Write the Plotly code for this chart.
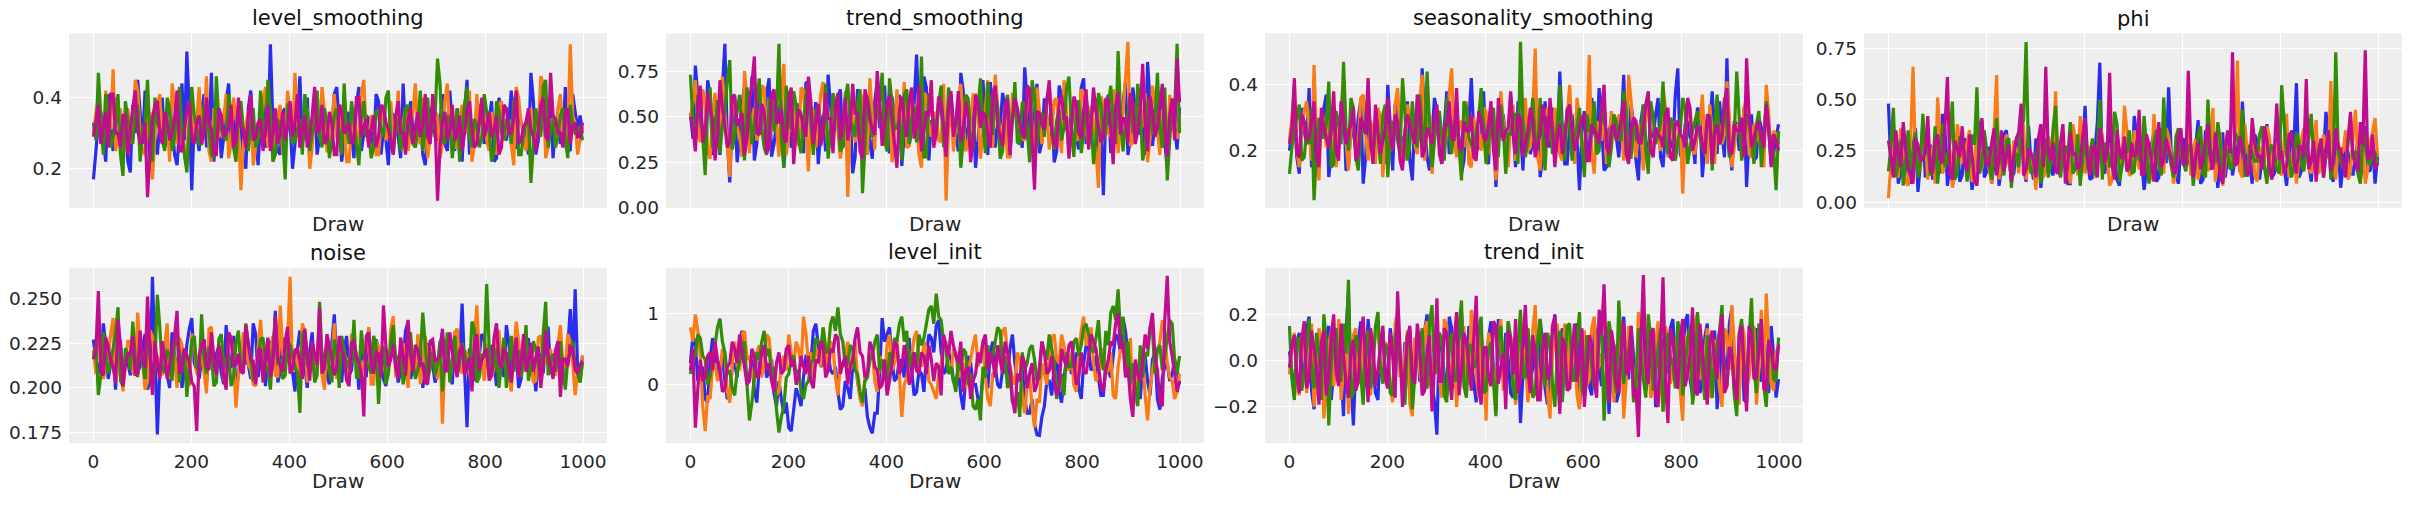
import numpy as np
import plotly.graph_objects as go

# ---------------- data (in x100 / x1000 units) ----------------
# Each variable: 4 chains; "*_even" lists hold the samples at even draw slots,
# "*_mid" lists hold the samples in between them.
chain_colors = ["#2a2eec", "#fa7c17", "#328c06", "#c10c90"]

level_smoothing_even = [
    [17,33,28,41,25,36,30,22,38,45,27,31,35,24,40,29,33,21,44,53,14,30,36,26,47,32,23,39,28,35,31,20,42,29,34,26,55,30,24,37,33,27,46,31,22,38,29,35,25,41,32,28,36,23,43,30,34,26,39,31,21,35,29,44,27,33,38,24,30,36,28,41,25,32,37,22,45,30,27,34,31,39,23,36,28,42,26,33,30,47,24,35,29,38,32,27,43,25,36,35],
    [30,40,26,34,48,29,23,37,31,42,25,33,17,38,28,35,44,27,31,24,39,33,29,46,22,36,30,41,27,34,14,32,37,26,29,43,31,24,38,28,35,47,26,32,20,39,30,36,25,41,29,33,22,37,31,45,27,34,24,38,30,28,42,33,25,36,29,40,23,32,35,27,44,31,26,38,30,22,41,34,28,36,24,39,31,27,43,33,25,37,29,46,23,34,30,41,26,55,33,28],
    [33,47,24,36,29,41,18,34,27,38,31,45,22,33,28,40,25,36,30,19,43,32,27,37,24,46,31,28,35,22,39,30,33,26,42,29,36,24,31,17,38,28,34,41,25,32,29,37,23,35,30,44,27,33,21,39,31,26,36,29,42,24,34,30,38,27,32,25,40,33,51,28,35,23,37,31,43,26,32,29,36,22,39,30,34,27,41,24,33,16,37,29,45,31,26,35,28,38,30,32],
    [29,38,32,26,41,30,35,24,37,31,28,12,34,39,27,33,30,42,25,36,29,33,27,40,31,24,35,30,38,28,32,26,41,29,34,31,25,37,30,28,39,33,26,35,29,43,31,27,36,24,38,30,33,28,40,32,26,35,29,37,31,24,39,30,34,27,36,32,29,41,11,33,28,38,30,25,36,31,27,40,32,29,35,26,37,30,42,28,33,31,25,38,29,47,34,30,36,27,33,29],
]
level_smoothing_mid = [
    [25,36,22,31,40,27,34,19,30,36,42,23,29,33,26,38,24,31,28,36,33,25,41,30,22,35,29,44,27,32,24,37,30,21,39,28,33,25,36,31,20,34,27,40,29,24,37,31,26,43,22,33,29,38,25,35,30,41,24,28,36,32,23,30,39,26,34,21,37,29,33,27,42,25,31,36,24,30,38,27,34,22,40,29,33,26,35,31,24,39,28,32,37,23,34,29,26,41,31,30],
    [36,28,42,31,25,37,33,27,45,30,24,36,29,41,33,22,38,30,26,35,28,43,31,25,37,29,34,23,40,31,27,36,21,33,39,26,30,35,24,42,28,33,30,37,26,31,43,25,34,29,38,22,32,27,41,30,35,24,33,28,39,31,25,37,30,44,27,33,29,36,23,39,30,26,34,31,42,27,32,36,25,30,38,28,33,21,40,29,35,27,31,44,26,33,37,28,30,35,24,31],
    [28,35,41,26,33,24,39,30,36,22,33,28,40,31,25,37,29,43,24,32,35,27,38,30,23,34,29,41,26,36,31,25,37,28,33,45,22,34,29,38,27,31,24,36,30,42,26,33,28,37,24,31,39,27,34,29,23,36,31,40,28,33,25,37,30,26,42,31,28,35,44,27,33,30,22,38,29,34,26,41,31,25,36,28,33,39,24,30,35,27,31,43,26,34,29,37,23,32,30,28],
    [33,27,36,41,30,26,35,31,42,27,33,24,38,30,36,28,34,25,31,39,27,35,30,33,24,37,29,32,26,40,31,35,28,33,25,38,30,27,36,32,29,41,31,26,35,30,38,28,33,24,36,31,27,40,29,34,31,26,38,33,28,35,30,24,37,31,29,41,27,33,26,36,31,28,35,30,39,26,33,29,36,31,24,38,30,34,27,32,37,29,31,40,28,35,30,26,37,32,29,33],
]
trend_smoothing_even = [
    [52,78,41,33,62,47,29,90,14,55,38,67,44,26,59,49,71,35,53,22,64,41,57,30,68,46,24,51,73,39,60,33,48,19,65,42,56,27,70,45,36,61,50,23,58,43,84,31,66,48,38,55,27,62,40,74,35,51,22,58,47,69,33,44,56,28,63,41,77,36,52,30,60,45,25,67,49,39,58,32,71,43,55,26,7,62,48,36,57,29,66,41,53,80,34,60,45,21,50,32],
    [49,70,36,58,27,63,44,52,17,61,39,75,30,55,42,66,33,48,28,79,41,57,34,64,20,53,46,69,31,58,42,37,6,54,43,62,29,50,71,38,56,25,65,44,33,59,47,22,61,39,52,36,4,57,45,68,31,49,62,27,55,40,73,35,51,28,60,44,37,66,24,53,47,32,59,42,70,29,56,38,63,34,48,11,57,41,65,30,52,91,36,60,45,25,67,43,54,31,49,38],
    [73,35,58,18,66,45,30,53,81,40,62,26,55,47,71,33,59,42,90,22,51,64,37,48,70,29,56,41,27,63,50,34,68,45,57,8,61,39,52,74,31,58,44,26,65,49,36,83,28,54,40,67,33,59,46,22,62,38,55,71,30,48,64,27,53,43,69,35,57,25,61,47,39,66,32,54,44,72,28,59,41,50,24,63,37,56,46,86,31,52,43,68,26,58,40,74,33,15,55,90],
    [50,31,67,42,55,26,70,45,36,62,48,29,58,83,40,53,33,65,47,38,60,24,54,44,72,35,57,41,49,30,63,46,37,68,52,27,59,43,75,34,56,48,22,61,39,66,45,31,53,70,41,57,28,64,47,36,58,25,62,44,51,33,67,40,55,29,60,46,38,65,10,52,43,70,35,57,48,27,61,41,54,32,66,45,38,59,24,63,49,36,57,42,79,31,53,44,68,28,60,82],
]
trend_smoothing_mid = [
    [38,61,45,70,29,53,66,37,48,25,57,44,72,35,51,63,28,46,60,40,33,55,48,69,37,58,42,31,56,47,65,39,53,28,61,49,35,58,44,67,30,52,62,41,34,57,48,72,26,45,60,38,54,47,31,64,43,56,37,70,29,51,45,63,38,55,47,33,59,42,68,36,49,57,31,62,44,53,39,66,35,48,60,43,52,30,57,46,69,38,54,41,29,58,47,63,36,51,44,55],
    [58,42,65,31,50,46,72,35,57,44,28,60,48,37,67,32,54,45,61,29,50,38,66,43,55,33,62,47,40,58,27,64,49,36,57,45,71,32,53,41,60,38,48,69,34,55,29,63,46,52,37,68,43,31,59,47,36,62,50,42,70,33,56,45,28,63,49,38,57,44,66,35,52,41,60,30,54,47,37,65,43,56,32,61,49,39,58,46,71,34,52,44,63,38,57,29,48,62,41,50],
    [47,62,39,55,33,59,45,70,32,53,41,66,35,58,44,29,61,50,38,67,43,56,30,62,46,53,36,68,42,55,31,60,47,39,65,34,52,45,58,37,71,43,49,62,35,56,41,28,63,48,57,34,66,44,51,38,60,32,54,46,69,40,55,31,62,47,36,58,44,70,33,52,59,41,48,37,65,45,53,30,61,49,38,57,43,67,35,51,46,62,39,55,33,60,48,44,66,37,53,41],
    [44,58,36,63,48,40,55,33,61,45,52,38,68,41,57,30,62,47,54,36,66,43,51,39,58,46,34,63,49,56,37,60,44,52,31,65,48,40,57,45,62,35,53,47,59,38,67,42,50,33,61,46,55,39,64,43,49,36,58,52,40,63,45,34,60,48,55,41,67,37,53,46,59,42,33,62,50,44,57,38,65,47,52,36,60,43,56,40,49,63,35,54,46,61,39,57,44,51,37,58],
]
seasonality_smoothing_even = [
    [20,31,13,26,39,17,24,33,12,28,21,36,15,25,30,10,34,19,27,22,40,14,29,23,35,11,26,45,18,24,32,16,38,21,27,13,30,42,20,25,17,33,9,28,22,37,15,26,31,19,24,12,35,21,29,44,16,27,23,8,32,20,26,39,14,25,30,18,43,22,28,11,34,20,24,36,15,27,21,45,17,29,23,33,12,26,38,19,25,48,14,28,22,9,31,18,27,35,16,24],
    [23,40,15,32,27,46,11,29,36,19,25,42,14,30,22,37,17,26,33,12,28,21,39,16,34,24,19,43,27,13,31,22,26,45,18,29,35,15,24,20,32,27,11,38,23,30,17,25,36,21,51,14,28,24,33,19,26,40,16,30,22,49,13,27,35,20,25,31,17,43,23,28,14,34,21,26,39,18,29,24,7,32,20,27,37,16,25,30,22,41,15,28,24,36,18,27,21,40,17,25],
    [13,27,34,18,22,5,30,24,41,16,28,47,20,33,14,26,38,19,25,31,12,29,23,42,17,35,21,27,44,15,30,24,36,19,28,11,33,22,26,39,16,29,21,34,13,25,31,53,18,27,23,36,14,30,22,40,17,28,25,33,12,26,35,20,29,15,31,24,38,18,27,22,34,13,30,25,41,19,28,23,36,16,26,32,21,29,14,37,24,27,20,44,17,31,23,28,15,35,22,8],
    [22,42,18,29,24,35,15,27,21,38,17,30,25,33,19,28,42,16,26,23,36,20,29,14,31,25,37,18,27,22,34,16,28,24,39,20,26,31,17,29,23,35,14,27,26,38,19,30,22,33,18,25,29,36,15,28,24,34,20,27,31,17,26,22,40,19,28,25,35,16,30,23,27,38,18,25,21,33,17,29,24,36,20,27,22,31,16,28,25,39,19,26,30,48,21,27,24,34,15,23],
]
seasonality_smoothing_mid = [
    [26,18,33,22,15,29,24,37,19,25,31,14,27,21,35,18,26,23,30,16,28,34,20,25,17,31,23,29,14,36,22,27,19,33,24,17,29,25,21,38,16,27,23,31,19,26,35,14,28,22,30,18,25,33,20,27,16,31,23,26,19,36,22,28,15,30,24,27,20,34,17,29,23,25,31,18,26,22,37,19,28,24,16,32,21,27,25,35,18,23,29,20,33,24,17,30,22,26,19,28],
    [30,20,26,35,17,24,31,21,28,15,33,23,27,19,36,25,29,16,30,24,20,34,26,18,29,22,35,17,31,24,27,19,37,23,28,21,16,30,25,33,19,27,22,29,15,34,24,28,20,31,18,26,33,22,25,17,30,24,36,21,27,19,29,23,16,32,25,28,22,35,18,26,30,23,27,20,33,25,17,29,24,31,19,28,22,34,16,27,25,30,21,26,33,19,28,23,15,31,26,22],
    [21,30,17,26,33,19,24,28,15,32,22,27,36,18,25,30,21,28,16,34,24,27,19,31,22,25,37,20,28,23,32,17,26,29,21,35,24,19,30,26,22,33,18,27,25,31,16,29,23,36,20,26,30,19,28,24,33,17,27,22,31,25,19,34,26,21,29,23,32,18,27,25,20,35,22,28,24,30,17,26,33,21,29,24,19,31,27,22,36,18,25,30,23,28,16,32,24,27,20,26],
    [27,19,31,23,29,18,33,24,26,20,35,22,28,17,30,25,23,34,19,27,24,31,17,26,28,22,33,20,25,30,19,27,35,23,21,29,26,18,32,24,28,20,36,23,27,25,31,18,26,29,22,34,21,27,24,19,32,26,23,30,17,28,25,33,21,27,23,30,19,26,29,22,34,20,27,24,31,18,28,25,21,33,23,27,19,30,25,22,35,20,28,26,18,31,24,29,21,27,25,20],
]
phi_even = [
    [48,22,9,31,14,27,5,38,18,11,25,43,8,20,34,13,29,6,22,40,15,9,28,17,35,12,24,45,10,19,31,7,26,16,38,13,22,9,30,18,47,11,25,68,14,36,21,8,29,15,42,19,6,27,33,12,23,56,17,9,31,20,14,40,11,25,18,7,34,22,13,28,49,16,9,30,21,38,12,26,17,8,35,58,15,23,10,29,19,44,13,26,7,32,18,21,11,37,15,9],
    [2,31,12,24,8,66,17,35,11,27,51,14,22,7,38,19,29,10,45,16,25,9,62,18,33,13,26,41,11,21,6,36,15,28,54,17,23,9,31,42,14,26,12,38,19,8,29,22,47,13,35,16,25,10,43,20,14,32,9,27,18,39,24,11,30,15,46,21,8,28,17,69,12,25,34,10,22,37,16,29,13,43,20,9,31,24,14,40,18,27,59,11,23,35,15,45,21,9,30,41],
    [15,46,19,8,35,24,12,43,29,16,9,38,21,49,14,27,10,33,56,18,25,11,41,20,30,7,24,36,78,14,22,9,31,19,47,12,27,39,16,8,33,23,13,50,28,17,44,10,25,35,15,21,42,9,29,18,51,24,12,36,19,27,8,33,14,50,22,39,11,26,17,31,45,13,24,20,37,9,28,16,57,22,12,34,19,26,43,15,30,23,11,73,20,14,38,25,9,32,18,24],
    [30,12,24,39,17,9,28,21,42,14,33,19,61,11,26,37,15,23,8,41,18,29,13,35,22,10,31,48,16,24,12,38,66,20,15,29,9,34,24,18,41,13,27,36,19,63,11,25,32,17,22,45,14,28,10,39,20,26,15,33,18,64,12,29,21,38,16,24,9,35,73,19,27,13,41,22,16,30,11,48,25,18,34,14,27,60,20,10,31,23,15,36,26,12,44,19,39,74,22,16],
]
phi_mid = [
    [18,32,15,24,9,36,19,12,28,21,14,35,17,26,10,31,22,15,38,12,27,19,8,33,20,14,29,17,37,11,24,18,30,13,21,27,9,34,16,25,20,12,39,17,23,29,11,26,18,14,32,21,15,28,10,36,19,25,13,30,17,22,27,9,35,16,24,19,12,31,21,15,28,18,33,11,25,20,14,37,17,23,29,12,31,19,26,15,22,34,10,27,18,24,13,30,20,16,28,22],
    [19,14,36,10,28,21,15,31,24,9,33,18,26,13,29,22,35,12,20,27,16,34,11,25,19,30,14,37,21,17,28,12,32,23,15,26,19,38,13,24,20,29,16,33,22,11,27,18,35,14,25,21,30,12,28,17,36,23,15,26,20,13,31,19,27,24,10,34,18,22,29,15,38,21,13,27,19,32,24,16,30,12,26,20,36,17,23,14,33,21,18,29,25,11,31,19,27,16,34,22],
    [27,12,30,21,16,34,19,25,13,37,22,17,29,11,32,24,19,28,14,35,18,26,22,13,31,20,17,40,24,15,29,21,12,36,18,27,23,14,33,20,16,31,25,11,29,22,38,17,24,14,30,19,27,21,35,13,25,18,32,23,15,28,20,37,12,26,19,30,22,16,34,24,13,28,20,33,17,25,21,14,39,23,18,29,15,31,22,26,12,35,19,24,17,30,21,14,33,20,26,18],
    [22,35,17,26,13,31,20,24,16,29,21,37,14,30,22,19,33,11,27,24,18,36,21,15,28,23,34,13,26,20,31,17,25,29,14,38,19,23,16,32,22,27,12,30,25,18,35,21,15,29,24,13,33,20,27,17,31,22,14,36,19,28,23,16,30,21,34,13,26,24,18,32,20,15,29,23,37,17,25,21,14,33,19,27,22,16,30,24,12,35,20,26,18,31,23,15,28,21,33,19],
]
noise_even = [
    [227,212,236,205,219,228,201,214,233,209,222,199,262,174,218,207,231,213,200,224,239,210,216,203,228,219,208,235,211,197,222,214,205,230,217,201,226,243,209,215,223,198,232,212,220,206,229,217,202,241,213,221,207,226,199,216,233,210,222,205,218,228,203,215,237,211,220,200,225,213,208,231,216,202,222,247,178,219,206,230,214,224,201,217,235,209,221,205,227,212,198,219,231,208,215,224,202,244,255,206],
    [221,233,205,217,239,212,198,226,209,242,215,203,229,218,207,236,212,200,224,216,230,208,219,197,234,211,222,206,228,189,217,225,210,201,238,214,220,207,246,213,262,219,204,231,215,208,226,199,221,236,212,218,205,229,217,210,234,202,223,214,207,240,211,225,200,218,230,209,216,222,205,180,227,213,233,208,219,201,246,215,224,206,231,212,220,198,237,210,225,216,204,229,213,221,207,235,211,226,196,203],
    [216,196,231,208,222,245,201,219,237,206,214,228,199,252,210,221,204,233,217,195,226,212,241,208,219,203,230,214,201,225,210,236,218,205,227,213,199,240,216,207,224,211,186,232,218,203,248,214,209,227,200,221,215,238,206,219,212,229,191,223,208,235,217,202,226,214,210,242,205,220,213,198,231,216,207,225,211,237,203,219,258,209,222,214,200,229,217,206,235,212,221,203,248,215,209,226,199,219,212,203],
    [216,254,207,223,212,238,201,219,229,208,216,251,196,214,226,205,220,243,210,218,203,176,224,212,231,207,217,199,228,213,209,235,215,202,222,218,206,240,212,226,208,221,215,233,204,219,245,211,223,207,229,217,201,226,214,184,231,208,219,246,212,224,205,218,238,209,221,214,202,227,216,233,210,220,206,224,213,198,230,215,222,207,236,211,219,203,228,214,209,225,217,200,232,212,221,195,216,223,210,213],
]
noise_mid = [
    [215,208,224,213,199,226,217,207,221,212,230,204,219,211,225,200,216,222,209,233,214,205,227,218,210,223,202,217,229,208,220,213,236,206,218,224,211,203,228,215,209,222,216,200,231,213,219,207,225,214,203,229,210,218,223,206,216,227,212,201,221,215,209,232,205,219,226,211,217,203,224,213,207,230,216,210,222,204,218,228,209,215,221,206,225,213,200,219,227,211,216,208,234,212,220,205,223,214,210,218],
    [208,224,212,230,203,219,215,226,207,221,199,232,213,210,224,205,218,228,211,201,226,215,209,233,212,220,204,227,216,208,231,213,202,222,217,210,229,206,219,225,209,214,236,203,221,218,207,228,212,205,224,216,230,208,213,221,202,226,217,211,233,206,219,214,224,208,202,229,215,211,225,218,205,231,213,221,209,227,217,204,223,211,232,214,207,219,226,210,216,203,228,215,221,208,224,212,230,214,209,218],
    [225,207,219,214,231,204,222,210,217,228,205,220,213,234,209,218,225,203,221,212,229,208,216,223,201,227,214,219,206,232,211,224,204,217,228,210,221,213,205,226,218,209,230,212,222,207,217,225,203,219,229,211,214,206,232,215,208,224,218,202,227,213,220,209,231,205,218,224,211,207,226,216,203,229,214,220,210,233,206,217,223,212,200,228,215,209,221,218,204,226,213,230,207,219,222,210,216,226,208,214],
    [221,209,228,215,203,224,213,219,207,232,211,220,226,205,217,213,229,208,222,214,201,218,227,210,216,224,206,231,212,219,208,225,215,221,203,228,213,217,209,234,211,222,205,218,226,213,208,230,216,212,221,204,225,217,209,229,213,220,206,223,216,211,228,207,219,224,212,203,226,215,218,209,231,213,221,207,217,225,210,219,204,228,214,222,211,217,206,230,215,209,223,213,219,205,226,216,212,222,208,215],
]
level_init_even = [
    [30,55,10,-20,35,48,20,5,-15,30,62,38,12,-8,25,45,20,-12,5,-40,-60,-35,-15,10,40,75,55,30,45,15,-10,-30,-5,25,5,-20,-45,-68,-40,93,70,35,10,30,55,20,-10,15,40,65,82,45,20,35,5,-15,10,30,0,-25,15,45,25,-5,20,50,30,10,-20,-40,-55,-71,-30,5,25,-10,10,40,20,-5,30,50,25,10,-15,20,40,65,93,40,15,-10,25,5,35,-20,10,30,15,20],
    [80,98,40,-65,-20,30,15,45,-25,60,20,75,40,5,55,30,65,15,-10,40,70,25,50,95,30,10,45,80,20,55,-15,25,60,35,5,-30,15,45,-10,30,55,20,65,-45,10,40,75,25,50,0,-20,30,60,15,45,25,-5,35,70,40,10,-30,20,50,80,25,0,35,-40,10,-60,-25,15,40,70,30,55,20,0,45,95,60,30,10,50,20,-15,25,60,40,-35,15,35,-50,20,45,90,30,5,-10],
    [15,40,65,35,10,55,92,45,20,-15,30,60,-50,10,35,75,50,25,-67,-30,15,40,20,-20,5,35,60,80,45,95,108,60,30,50,15,-25,10,40,70,35,5,30,60,95,75,40,20,55,85,110,127,90,50,25,-10,20,45,15,-35,-50,10,30,60,75,40,15,-30,-45,20,50,35,10,45,70,30,5,-15,25,60,40,80,70,45,90,20,55,110,133,95,60,30,-30,10,40,75,50,20,65,85,15],
    [20,-60,35,10,45,60,20,-5,30,50,70,25,5,40,15,55,30,-10,45,20,55,35,10,25,40,-5,30,55,20,45,65,30,0,35,80,40,15,50,20,0,-15,30,55,25,40,10,20,45,15,35,30,-15,55,75,40,60,20,-20,15,30,70,45,10,35,60,25,-40,5,30,15,-10,25,45,20,5,-5,35,55,30,10,20,40,60,25,-10,35,55,100,60,25,-45,15,35,50,100,20,-30,152,40,-10],
]
level_init_mid = [
    [70,5,25,-25,65,15,40,-20,25,10,75,5,35,-25,55,10,35,-30,-20,-25,-65,-5,-30,40,30,85,25,55,20,25,-35,5,-20,40,-15,-5,-60,-40,20,60,80,5,35,10,65,-15,20,-10,70,45,90,15,45,5,20,-35,40,0,-20,15,-5,60,0,20,10,70,5,25,-40,-20,-70,-45,5,-15,40,-25,35,15,45,-20,55,20,40,-15,30,10,70,45,75,5,30,-20,40,-15,45,-35,25,5,35,0],
    [60,75,-30,-15,25,5,50,-10,30,25,70,35,15,45,10,70,25,-15,30,20,45,60,25,70,45,50,25,55,60,10,30,40,20,60,-20,10,35,5,40,10,70,30,15,0,30,65,35,60,5,-10,15,55,20,50,10,30,20,55,25,60,-20,15,35,75,45,10,45,-15,0,-30,-20,30,0,65,35,70,25,45,-10,75,55,80,5,45,15,45,-20,50,15,65,-15,45,-15,-5,40,60,70,10,-20,15],
    [35,70,40,0,40,80,60,15,-5,20,55,0,-25,45,60,40,10,-35,-45,10,35,15,-10,0,30,65,50,45,85,75,70,25,55,20,-10,5,35,60,20,10,45,65,85,60,25,45,70,65,105,85,95,60,15,5,35,50,0,-30,-20,25,55,40,80,30,-5,-25,-10,45,30,55,5,60,35,50,-20,15,45,25,65,55,85,50,65,40,75,100,90,70,20,0,-5,55,45,80,15,55,40,90,35,40],
    [50,-5,5,40,20,35,-10,25,60,30,45,0,50,10,45,20,5,30,15,50,25,0,40,15,5,35,60,10,50,70,15,40,25,65,45,10,60,25,-5,35,5,60,15,55,0,45,15,40,55,5,25,70,40,55,30,-10,25,5,45,60,20,35,55,15,45,-20,15,40,-5,30,0,60,15,40,-15,50,25,60,0,45,15,70,50,0,20,60,85,50,10,-20,35,5,70,80,40,-25,90,60,15,5],
]
trend_init_even = [
    [4,-16,12,-8,19,-21,6,-14,15,-5,10,-24,30,-28,8,-12,18,-3,-17,13,-9,5,16,-13,2,-19,11,-6,20,-10,-32,7,-15,14,-4,21,-11,3,-18,9,-7,17,-22,1,12,-14,6,-27,15,-9,4,18,-12,-2,20,-16,8,-6,13,-20,5,-11,17,-3,10,-23,7,-14,19,-8,2,-19,14,-5,11,-17,9,-2,18,-12,3,20,-15,7,-10,16,-6,-21,12,-4,23,-13,8,-18,5,14,-9,-1,15,-16],
    [-6,12,-15,9,3,-20,14,-25,7,-11,18,-4,-23,11,-8,16,-13,2,19,-9,6,-18,21,-6,13,-24,4,-12,17,-7,10,-16,15,-2,-20,8,-11,22,-5,12,-26,6,-14,18,-3,9,-19,14,1,-10,24,-17,5,-25,11,-4,16,-12,7,-21,13,-8,19,-1,-15,10,-18,4,-25,15,-6,21,-9,2,-13,17,-22,8,-4,12,-26,6,-11,20,-7,14,-16,3,-20,11,24,-8,16,-12,5,-19,22,29,-10,4],
    [15,-17,9,-6,18,-12,4,20,-28,11,-8,16,35,-14,7,-19,13,-3,21,-10,5,-15,17,-7,11,-21,3,14,-12,24,-5,9,-18,12,-9,26,-16,6,-2,19,-13,8,-24,15,-4,10,-17,22,-7,3,-14,18,-11,7,-20,13,-3,16,-9,21,-15,5,-12,11,-26,17,-6,26,-10,4,-18,14,-8,20,-13,6,-22,12,-2,17,-15,9,-19,21,-5,11,-16,7,24,-11,3,-24,18,-7,27,-14,10,-20,6,-9],
    [-3,11,-14,17,-8,5,-19,13,-6,20,-11,2,-16,9,-9,19,-18,7,-4,15,-12,3,30,-20,10,-7,16,-15,5,-22,27,-9,12,-17,21,-4,8,-13,28,-19,6,-11,15,-3,-21,10,18,-8,24,-14,4,-17,12,-6,19,-23,7,-12,16,-1,-20,11,-9,22,33,-18,6,-14,17,-5,-16,-33,37,-10,14,-20,36,-27,9,-12,18,-6,23,-15,4,-19,13,-8,20,-11,2,-17,15,-22,11,-7,18,-13,6,-4],
]
trend_init_mid = [
    [-5,8,-2,14,-13,3,-9,10,-17,6,-4,12,-8,-1,17,-10,5,-14,9,-6,14,-11,2,8,-15,4,-9,13,-3,-18,11,-7,19,-12,3,-5,15,-10,6,-13,10,-4,18,-8,1,-16,9,-6,13,-3,-12,7,-19,11,-5,14,-2,-9,16,-7,4,-15,8,-11,12,-2,-18,10,-5,15,-9,6,-13,3,-20,9,-6,14,-1,-11,17,-8,5,-14,10,-4,13,-9,-2,16,-12,7,-17,3,10,-6,12,-14,2,-8],
    [5,-9,11,-14,16,-4,7,-12,13,-2,-17,9,-6,14,-10,4,-15,11,-3,8,-12,16,-7,3,-19,10,-5,14,-11,2,-8,18,-13,6,-4,15,-9,10,-16,3,12,-7,8,-13,17,-2,-10,6,-18,13,-5,9,-14,2,16,-8,11,-3,-15,7,-11,14,-6,3,-17,10,-4,13,-9,5,-14,12,-2,-16,8,-7,15,-10,4,-13,11,-5,17,-8,2,-15,9,-12,14,-4,6,-19,11,-7,15,-3,-10,8,-13,5],
    [-8,10,-13,5,-4,12,-17,8,-2,14,-9,3,-16,11,-6,9,-12,15,-3,7,-14,10,-1,-19,13,-7,6,-10,16,-5,12,-15,4,-8,15,-11,7,-3,13,-14,5,-9,11,-1,17,-12,6,-7,14,-16,9,-4,12,-10,3,-18,15,-6,8,-13,11,-2,-9,16,-5,10,-14,7,-1,13,-11,4,-16,9,-6,14,-8,2,-12,11,-4,15,-10,6,-17,8,-2,13,-9,5,-15,12,-6,9,-3,16,-11,4,-8,10],
    [7,-6,9,-12,13,-3,8,-15,11,-5,16,-9,4,-13,10,-2,14,-11,6,-8,12,-16,5,-4,15,-10,7,-13,11,-3,-9,14,-6,8,-15,12,-2,10,-12,5,-7,17,-10,3,13,-6,-14,9,-4,11,-17,6,-8,15,-2,10,-13,4,-9,14,-5,7,-16,11,-1,13,-10,5,-6,15,-12,8,-3,12,-15,6,-9,14,-4,10,-11,3,-13,16,-7,8,-2,12,-14,6,-10,11,-5,15,-8,4,-12,9,-3,7],
]

panel_titles = ["level_smoothing", "trend_smoothing", "seasonality_smoothing", "phi",
                "noise", "level_init", "trend_init"]
panel_even = [level_smoothing_even, trend_smoothing_even, seasonality_smoothing_even, phi_even,
              noise_even, level_init_even, trend_init_even]
panel_mid = [level_smoothing_mid, trend_smoothing_mid, seasonality_smoothing_mid, phi_mid,
             noise_mid, level_init_mid, trend_init_mid]
panel_units = [100, 100, 100, 100, 1000, 100, 100]

y_tickvals = [[0.2, 0.4], [0.0, 0.25, 0.5, 0.75], [0.2, 0.4], [0.0, 0.25, 0.5, 0.75],
              [0.175, 0.2, 0.225, 0.25], [0, 1], [-0.2, 0.0, 0.2]]
y_ticktext = [["0.2", "0.4"], ["0.00", "0.25", "0.50", "0.75"], ["0.2", "0.4"],
              ["0.00", "0.25", "0.50", "0.75"], ["0.175", "0.200", "0.225", "0.250"],
              ["0", "1"], ["\u22120.2", "0.0", "0.2"]]
y_ranges = [[0.09, 0.581], [0.0, 0.957], [0.0266, 0.556], [-0.028, 0.823],
            [0.1691, 0.2671], [-0.818, 1.634], [-0.357, 0.402]]
x_tickvals = [0, 200, 400, 600, 800, 1000]
x_ticktext = ["0", "200", "400", "600", "800", "1000"]
n_draws = 1000


def interleave(a, b):
    out = []
    for i in range(max(len(a), len(b))):
        if i < len(a):
            out.append(a[i])
        if i < len(b):
            out.append(b[i])
    return out


# ---------------- layout geometry ----------------
W, H = 2411, 513
col_left = [69, 666, 1265, 1864]
plot_w = 538
rows = [(34, 212), (273, 452)]
title_y = [19, 258]
xlabel_y = [228, 491]

FONT = "DejaVu Sans"
TXT = "#262626"

fig = go.Figure()
annotations = []
layout_axes = {}

for k, title in enumerate(panel_titles):
    r, c = divmod(k, 4)
    idx = k + 1
    xa = "x" if idx == 1 else f"x{idx}"
    ya = "y" if idx == 1 else f"y{idx}"
    for ch_even, ch_mid, col in zip(panel_even[k], panel_mid[k], chain_colors):
        vals = np.array(interleave(ch_even, ch_mid), dtype=float) / panel_units[k]
        draws = np.linspace(0, n_draws - 1, len(vals))
        fig.add_trace(go.Scatter(x=draws, y=vals, mode="lines", xaxis=xa, yaxis=ya,
                                 line=dict(color=col, width=3.2, simplify=False),
                                 showlegend=False, hoverinfo="skip"))
    top, bot = rows[r]
    left = col_left[c]
    xd = [left / W, (left + plot_w) / W]
    yd = [1 - bot / H, 1 - top / H]
    axis_common = dict(showgrid=True, gridcolor="white", gridwidth=1.3, zeroline=False,
                       showline=False, ticks="", tickfont=dict(family=FONT, size=18.5, color=TXT))
    layout_axes[f"xaxis{idx}"] = dict(domain=xd, anchor=ya, range=[-49.95, 1048.95],
                                      tickmode="array", tickvals=x_tickvals, ticktext=x_ticktext,
                                      showticklabels=(r == 1), ticklabelstandoff=5, **axis_common)
    layout_axes[f"yaxis{idx}"] = dict(domain=yd, anchor=xa, range=y_ranges[k],
                                      tickmode="array", tickvals=y_tickvals[k], ticktext=y_ticktext[k],
                                      ticklabelstandoff=6, **axis_common)
    cx = (left + plot_w / 2) / W
    annotations.append(dict(text=title, x=cx, y=1 - title_y[r] / H, xref="paper", yref="paper",
                            xanchor="center", yanchor="middle", showarrow=False,
                            font=dict(family=FONT, size=21, color="#111111")))
    annotations.append(dict(text="Draw", x=cx, y=1 - xlabel_y[r] / H, xref="paper", yref="paper",
                            xanchor="center", yanchor="middle", showarrow=False,
                            font=dict(family=FONT, size=20, color=TXT)))

fig.update_layout(width=W, height=H, margin=dict(l=0, r=0, t=0, b=0),
                  paper_bgcolor="white", plot_bgcolor="#eeeeee", showlegend=False,
                  annotations=annotations, **layout_axes)

fig.write_html("out.html")
